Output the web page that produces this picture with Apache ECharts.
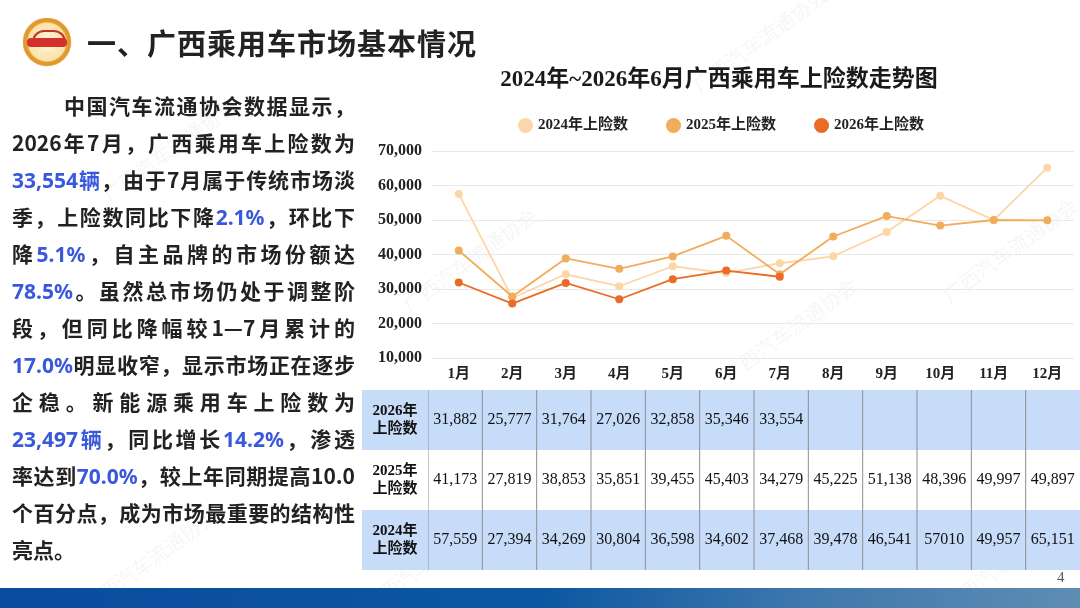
<!DOCTYPE html>
<html>
<head>
<meta charset="utf-8" />
<script src="https://cdn.jsdelivr.net/npm/echarts@6/dist/echarts.min.js"></script>
<title>广西乘用车市场基本情况</title>
<style>
    html, body {
        margin: 0;
        padding: 0;
        width: 1080px;
        height: 608px;
        overflow: hidden;
        background: #fff;
    }
    #page {
        position: relative;
        width: 1080px;
        height: 608px;
    }
    #chart {
        position: absolute;
        left: 0;
        top: 0;
        width: 1080px;
        height: 608px;
    }
    .logo {
        position: absolute;
        left: 23px;
        top: 18px;
        width: 48px;
        height: 48px;
        border-radius: 50%;
        background: radial-gradient(circle, #fff6e0 0%, #fbe3a8 55%, #e39a2c 60%, #d9902a 100%);
        box-shadow: 0 0 1px #c98420;
    }
    .logo .band {
        position: absolute;
        left: 4px;
        top: 20px;
        width: 40px;
        height: 9px;
        border-radius: 4px;
        background: #d2322b;
    }
    .logo .car {
        position: absolute;
        left: 9px;
        top: 12px;
        width: 30px;
        height: 10px;
        border: 2px solid #c9302a;
        border-bottom: none;
        border-radius: 14px 14px 0 0;
    }
    .slide-title {
        position: absolute;
        left: 87px;
        top: 22px;
        font-family: "Noto Sans CJK SC", sans-serif;
        font-size: 29px;
        font-weight: bold;
        color: #222;
        letter-spacing: 1px;
        line-height: 40px;
    }
    .para {
        position: absolute;
        left: 12px;
        top: 87px;
        width: 343px;
        font-family: "Noto Sans CJK SC", sans-serif;
        font-size: 21px;
        font-weight: bold;
        color: #222;
        line-height: 37px;
    }
    .para div {
        height: 37px;
        text-align: justify;
        text-align-last: justify;
        white-space: nowrap;
    }
    .para div.first {
        padding-left: 52px;
    }
    .para div.last {
        text-align-last: left;
    }
    .para .hl {
        color: #3a58dc;
        font-family: "Noto Sans", "Noto Sans CJK SC", sans-serif;
        line-height: 37px;
    }
    .footer {
        position: absolute;
        left: 0;
        top: 588px;
        width: 1080px;
        height: 20px;
        background: linear-gradient(90deg, #0a4c9e 0%, #0c57a2 50%, #3f78ad 75%, #5e8db3 100%);
    }
    .pageno {
        position: absolute;
        left: 1057px;
        top: 569px;
        font-family: "Liberation Serif", serif;
        font-size: 15px;
        color: #555;
    }
</style>
</head>
<body>
<div id="page">
    <div id="chart"></div>
    <div class="logo"><div class="car"></div><div class="band"></div></div>
    <div class="slide-title">一、广西乘用车市场基本情况</div>
    <div class="para">
        <div class="first">中国汽车流通协会数据显示，</div>
        <div>2026年7月，广西乘用车上险数为</div>
        <div><span class="hl">33,554辆</span>，由于7月属于传统市场淡</div>
        <div>季，上险数同比下降<span class="hl">2.1%</span>，环比下</div>
        <div>降<span class="hl">5.1%</span>，自主品牌的市场份额达</div>
        <div><span class="hl">78.5%</span>。虽然总市场仍处于调整阶</div>
        <div>段，但同比降幅较1—7月累计的</div>
        <div><span class="hl">17.0%</span>明显收窄，显示市场正在逐步</div>
        <div>企稳。新能源乘用车上险数为</div>
        <div><span class="hl">23,497辆</span>，同比增长<span class="hl">14.2%</span>，渗透</div>
        <div>率达到<span class="hl">70.0%</span>，较上年同期提高10.0</div>
        <div>个百分点，成为市场最重要的结构性</div>
        <div class="last">亮点。</div>
    </div>
    <div class="pageno">4</div>
    <div class="footer"></div>
</div>
<script type="text/javascript">
    // chart data
    var months = ['1月', '2月', '3月', '4月', '5月', '6月', '7月', '8月', '9月', '10月', '11月', '12月'];
    var seriesNames = ['2024年上险数', '2025年上险数', '2026年上险数'];
    var sales2024 = [57559, 27394, 34269, 30804, 36598, 34602, 37468, 39478, 46541, 57010, 49957, 65151];
    var sales2025 = [41173, 27819, 38853, 35851, 39455, 45403, 34279, 45225, 51138, 48396, 49997, 49897];
    var sales2026 = [31882, 25777, 31764, 27026, 32858, 35346, 33554, null, null, null, null, null];
    var yMin = 10000, yMax = 70000, yStep = 10000;
    var chartTitle = '2024年~2026年6月广西乘用车上险数走势图';

    // table rows, top to bottom
    var tableHeads = ['2026年\n上险数', '2025年\n上险数', '2024年\n上险数'];
    var tableRows = [sales2026, sales2025, sales2024];
    // the source table prints this one cell without a thousands separator
    var plainCells = { '2-9': true };

    var serifFont = '"Liberation Serif", "Noto Sans CJK SC", serif';
    var colors = ['#fcd6a8', '#f0ad5c', '#ea6b26'];

    function fmt(v) {
        return String(v).replace(/\B(?=(\d{3})+(?!\d))/g, ',');
    }

    var cellData = [];
    tableRows.forEach(function(row, r) {
        row.forEach(function(v, c) {
            cellData.push([c, r, v]);
        });
    });
    var headData = tableHeads.map(function(h, r) { return [0, r, h]; });

    var watermarks = [[170, 150], [430, 560], [760, 40], [790, 330], [1010, 250], [470, 260], [150, 560], [1010, 560]];

    var chart = echarts.init(document.getElementById('chart'));

    var option = {
        animation: false,
        color: colors,
        graphic: watermarks.map(function(p) {
            return {
                type: 'text',
                x: p[0],
                y: p[1],
                rotation: Math.PI / 5,
                silent: true,
                z: 0,
                style: {
                    text: '广西汽车流通协会',
                    font: '20px "Noto Sans CJK SC"',
                    fill: 'rgba(0,0,0,0.04)',
                    textAlign: 'center',
                    textVerticalAlign: 'middle'
                }
            };
        }).concat([{
            type: 'text',
            x: 719,
            y: 80,
            style: {
                text: chartTitle,
                font: 'bold 23px ' + serifFont,
                fill: '#1a1a1a',
                textAlign: 'center',
                textVerticalAlign: 'middle'
            }
        }]),
        legend: {
            left: 513,
            top: 113,
            icon: 'circle',
            itemWidth: 15,
            itemHeight: 15,
            itemGap: 38,
            data: seriesNames,
            textStyle: {
                fontFamily: serifFont,
                fontSize: 15,
                fontWeight: 'bold',
                color: '#222'
            }
        },
        grid: [{
            left: 432,
            right: 6,
            top: 151,
            bottom: 250
        }, {
            left: 428,
            right: 0,
            top: 390,
            height: 180
        }],
        xAxis: [{
            type: 'category',
            gridIndex: 0,
            data: months,
            axisLine: { show: false },
            axisTick: { show: false },
            axisLabel: {
                margin: 9,
                fontFamily: serifFont,
                fontSize: 15,
                fontWeight: 'bold',
                color: '#222'
            }
        }, {
            type: 'category',
            gridIndex: 1,
            data: months,
            show: false
        }],
        yAxis: [{
            type: 'value',
            gridIndex: 0,
            min: yMin,
            max: yMax,
            interval: yStep,
            axisLabel: {
                margin: 10,
                fontFamily: serifFont,
                fontSize: 16,
                fontWeight: 'bold',
                color: '#222',
                formatter: function(v) { return fmt(v); }
            },
            splitLine: { lineStyle: { color: '#e9e9e9', width: 1 } }
        }, {
            type: 'category',
            gridIndex: 1,
            inverse: true,
            data: tableHeads,
            show: false
        }],
        series: [{
            name: seriesNames[0],
            type: 'line',
            data: sales2024,
            symbol: 'circle',
            symbolSize: 8,
            lineStyle: { width: 1.8, color: colors[0] },
            itemStyle: { color: colors[0] },
            z: 2
        }, {
            name: seriesNames[1],
            type: 'line',
            data: sales2025,
            symbol: 'circle',
            symbolSize: 8,
            lineStyle: { width: 1.8, color: colors[1] },
            itemStyle: { color: colors[1] },
            z: 3
        }, {
            name: seriesNames[2],
            type: 'line',
            data: sales2026,
            symbol: 'circle',
            symbolSize: 8,
            lineStyle: { width: 1.8, color: colors[2] },
            itemStyle: { color: colors[2] },
            z: 4
        }, {
            // table body
            type: 'custom',
            xAxisIndex: 1,
            yAxisIndex: 1,
            data: cellData,
            z: 5,
            renderItem: function(params, api) {
                var c = api.value(0), r = api.value(1), v = api.value(2);
                var p = api.coord([c, r]);
                var s = api.size([1, 1]);
                var x = p[0] - s[0] / 2, y = p[1] - s[1] / 2;
                var txt = '';
                if (v !== null && v !== undefined && !isNaN(v) && v !== '-') {
                    txt = plainCells[r + '-' + c] ? String(v) : fmt(v);
                }
                return {
                    type: 'group',
                    children: [{
                        type: 'rect',
                        shape: { x: x, y: y, width: s[0], height: s[1] },
                        style: { fill: r === 1 ? '#ffffff' : '#c6dcf9' }
                    }, {
                        type: 'line',
                        shape: { x1: x, y1: y, x2: x, y2: y + s[1] },
                        style: { stroke: '#8c8f94', lineWidth: 1 }
                    }, {
                        type: 'text',
                        style: {
                            x: p[0],
                            y: p[1],
                            text: txt,
                            font: '16px ' + serifFont,
                            fill: '#111',
                            textAlign: 'center',
                            textVerticalAlign: 'middle'
                        }
                    }]
                };
            }
        }, {
            // table row heads
            type: 'custom',
            xAxisIndex: 1,
            yAxisIndex: 1,
            data: headData,
            z: 5,
            renderItem: function(params, api) {
                var r = api.value(1);
                var p = api.coord([0, r]);
                var s = api.size([1, 1]);
                var right = p[0] - s[0] / 2;
                var left = 362;
                var y = p[1] - s[1] / 2;
                return {
                    type: 'group',
                    children: [{
                        type: 'rect',
                        shape: { x: left, y: y, width: right - left, height: s[1] },
                        style: { fill: r === 1 ? '#ffffff' : '#c6dcf9' }
                    }, {
                        type: 'text',
                        style: {
                            x: (left + right) / 2,
                            y: p[1],
                            text: tableHeads[r],
                            font: 'bold 15px ' + serifFont,
                            lineHeight: 18,
                            fill: '#111',
                            textAlign: 'center',
                            textVerticalAlign: 'middle'
                        }
                    }]
                };
            }
        }]
    };

    chart.setOption(option);
</script>
</body>
</html>
